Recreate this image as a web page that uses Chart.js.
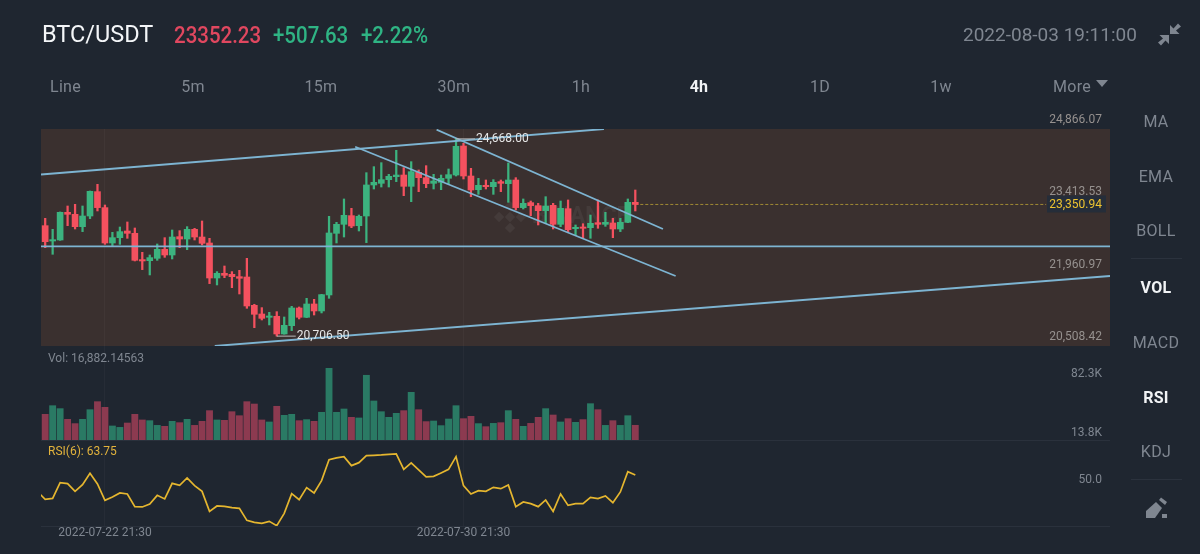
<!DOCTYPE html>
<html>
<head>
<meta charset="utf-8">
<title>BTC/USDT</title>
<script src="https://cdn.jsdelivr.net/npm/chart.js@4/dist/chart.umd.min.js"></script>
<style>
  html, body { margin: 0; padding: 0; background: #1f2630; }
  body { width: 1200px; height: 554px; position: relative; overflow: hidden; font-family: Roboto, sans-serif; }
  canvas { position: absolute; left: 0; top: 0; }
  .t { position: absolute; white-space: nowrap; line-height: 1; transform: translateY(-50%); }
  .c { transform: translate(-50%, -50%); }
  .head { font-size: 23.5px; }
  .num { font-size: 23px; font-weight: 500; transform: translateY(-50%) scaleX(0.89); transform-origin: left center; }
  .tab { font-size: 16px; color: #7f8690; letter-spacing: 0.3px; }
  .on { color: #f1f3f5; font-weight: 700; }
  .rule { position: absolute; left: 1131px; width: 51px; height: 1px; background: #2b323d; }
  svg { position: absolute; }
</style>
</head>
<body>
<canvas id="klineChart" width="1200" height="554"></canvas>

<!-- ticker header -->
<div class="t head" style="left:42px;top:35px;color:#f4f6f8">BTC/USDT</div>
<div class="t num" style="left:174px;top:35px;color:#e0475f">23352.23</div>
<div class="t num" style="left:273px;top:35px;color:#2fb484">+507.63</div>
<div class="t num" style="left:361px;top:35px;color:#2fb484">+2.22%</div>
<div class="t" style="left:963px;top:34px;color:#7f8690;font-size:19px">2022-08-03 19:11:00</div>
<svg style="left:1158px;top:22px" width="24" height="24" viewBox="0 0 24 24" fill="#7f8690">
  <path d="M12 12 L12 3 L15.5 6.5 L20 1.5 L23 4.5 L18 8.5 L21.5 12 Z"/>
  <path d="M11 13 L11 22 L7.5 18.5 L3 23.5 L0 20.5 L5 16.5 L1.5 13 Z"/>
</svg>

<!-- interval tabs -->
<div class="t tab" style="left:50px;top:87px">Line</div>
<div class="t tab c" style="left:193px;top:87px">5m</div>
<div class="t tab c" style="left:321px;top:87px">15m</div>
<div class="t tab c" style="left:454px;top:87px">30m</div>
<div class="t tab c" style="left:581px;top:87px">1h</div>
<div class="t tab c on" style="left:699px;top:87px">4h</div>
<div class="t tab c" style="left:820px;top:87px">1D</div>
<div class="t tab c" style="left:941px;top:87px">1w</div>
<div class="t tab c" style="left:1072px;top:87px">More</div>
<svg style="left:1096px;top:80px" width="12" height="7"><path d="M0 0 L12 0 L6 7 Z" fill="#7f8690"/></svg>

<!-- indicator menu -->
<div class="t tab c" style="left:1156px;top:122px">MA</div>
<div class="t tab c" style="left:1156px;top:177px">EMA</div>
<div class="t tab c" style="left:1156px;top:231px">BOLL</div>
<div class="rule" style="top:258px"></div>
<div class="t tab c on" style="left:1156px;top:288px">VOL</div>
<div class="t tab c" style="left:1156px;top:343px">MACD</div>
<div class="t tab c on" style="left:1156px;top:398px">RSI</div>
<div class="t tab c" style="left:1156px;top:452px">KDJ</div>
<div class="rule" style="top:479px"></div>
<svg style="left:1145px;top:497px" width="24" height="22" viewBox="0 0 24 22" fill="#7f8690">
  <path d="M1 21 L1 14 L11 5 L17 11 L10 21 Z"/>
  <path d="M14 3 L16 0.5 L22 5 L20 8 Z"/>
  <rect x="17" y="17" width="5" height="4"/>
</svg>

<script>
// ===== CANDLES (4h) =====
const opens = [22925, 22617, 22637, 23193, 23153, 22905, 23119, 23608, 23287, 22577,
  22684, 22818, 22771, 22243, 22222, 22269, 22450, 22336, 22704, 22657,
  22851, 22697, 22577, 21874, 21968, 21948, 21901, 21894, 21325, 21151,
  21085, 21105, 20750, 20917, 21272, 21085, 21352, 21212, 21533, 22771,
  22952, 23126, 22925, 23119, 23742, 23775, 23849, 23909, 23942, 23715,
  23996, 23889, 23775, 23795, 23876, 23942, 24525, 23922, 23648, 23735,
  23708, 23809, 23768, 23842, 23287, 23387, 23327, 23226, 23333, 22952,
  23266, 22865, 22898, 22885, 22985, 22952, 22979, 22858, 22992, 23394];
const highs = [23072, 22851, 23200, 23320, 23353, 23320, 23621, 23755, 23340, 22791,
  22898, 22999, 22878, 22390, 22336, 22557, 22684, 22838, 22825, 22905,
  22871, 23019, 22671, 22002, 22115, 22002, 22028, 22269, 21346, 21279,
  21185, 21198, 21091, 21305, 21292, 21466, 21446, 21546, 23112, 22992,
  23461, 23273, 23139, 23989, 24110, 24190, 23956, 24438, 24090, 24210,
  24043, 24130, 23956, 23942, 24063, 24668, 24578, 24076, 23875, 23842,
  23849, 23842, 24183, 23889, 23461, 23420, 23374, 23507, 23374, 23420,
  23441, 22939, 22965, 23139, 23441, 23193, 23072, 23072, 23461, 23641];
const lows = [22483, 22350, 22630, 22925, 22858, 22805, 23066, 23220, 22550, 22524,
  22550, 22671, 22216, 22042, 21935, 22229, 22289, 22256, 22483, 22443,
  22637, 22537, 21761, 21734, 21881, 21680, 21553, 21265, 20877, 21031,
  20931, 20706.5, 20745, 20817, 21051, 21078, 21131, 21172, 21466, 22577,
  22697, 22885, 22818, 22584, 23661, 23701, 23701, 23809, 23527, 23407,
  23608, 23688, 23661, 23648, 23768, 23922, 23862, 23507, 23554, 23661,
  23554, 23608, 23394, 23240, 23260, 23126, 22939, 22965, 22858, 22905,
  22805, 22724, 22671, 22671, 22872, 22912, 22684, 22805, 22985, 23220];
const closes = [22604, 22644, 23193, 23153, 22905, 23119, 23614, 23287, 22577, 22684,
  22805, 22771, 22229, 22216, 22283, 22450, 22336, 22697, 22657, 22851,
  22697, 22570, 21874, 21968, 21928, 21901, 21868, 21312, 21145, 21064,
  21111, 20750, 20924, 21272, 21085, 21352, 21212, 21540, 22778, 22952,
  23133, 22918, 23112, 23742, 23795, 23849, 23916, 23942, 23715, 24009,
  23889, 23768, 23822, 23876, 23949, 24518, 23922, 23641, 23735, 23708,
  23795, 23775, 23842, 23287, 23374, 23327, 23226, 23320, 22952, 23273,
  22845, 22892, 22872, 22972, 22952, 22992, 22858, 22992, 23394, 23350.94];

// ===== VOLUME =====
const volumes = [29500, 39400, 36000, 23700, 18800, 23700, 34800, 44000, 37500, 16100,
  14500, 19500, 29500, 23000, 22200, 16800, 15700, 21400, 19900, 23700,
  16800, 21400, 33700, 23000, 22600, 32500, 27900, 44000, 41300, 23000,
  20700, 38700, 28300, 29500, 22200, 23400, 21400, 31800, 82300, 31800,
  35600, 26000, 25300, 74300, 44800, 32500, 26000, 30600, 33700, 54700,
  34800, 21100, 21800, 16500, 24100, 39400, 24500, 27200, 18800, 15300,
  19100, 19900, 33700, 23700, 15700, 19100, 26000, 36000, 28700, 20700,
  24500, 20300, 23400, 41700, 34800, 16800, 22200, 16800, 27900, 16882.14563];

// ===== RSI(6) =====
const rsiBefore = 47;
const rsiValues = [39.4, 40.4, 56.1, 55.1, 47.4, 54.1, 65.4, 54.8, 38.4, 41.8,
  45.8, 44.8, 32.1, 31.8, 34.8, 43.4, 39.8, 55.4, 53.4, 60.8,
  53.1, 47.4, 27.4, 32.8, 32.4, 31.1, 30.4, 18.4, 16.4, 15.4,
  17.4, 13.1, 25.4, 45.1, 39.1, 51.1, 45.8, 58.1, 79.1, 80.8,
  82.1, 73.1, 76.1, 83.1, 83.4, 83.8, 84.4, 84.8, 69.4, 75.8,
  68.8, 61.8, 62.4, 65.8, 69.4, 82.1, 53.1, 44.8, 48.1, 47.4,
  51.4, 50.1, 53.8, 32.1, 36.8, 35.1, 32.1, 38.8, 27.4, 44.8,
  33.4, 35.1, 35.1, 41.4, 40.1, 42.8, 36.1, 46.8, 67.1, 63.75];

// ===== AXES =====
const timeTickIndexes = [8, 56];
const timeTickLabels = ['2022-07-22 21:30', '2022-07-30 21:30'];
const priceTicks = [24866.07, 23413.53, 21960.97, 20508.42];
const volumeTicks = [82300, 13800];
const rsiTicks = [50];

// ===== DRAWN TREND LINES [candle index, price] =====
const channelUpper = [[-0.56, 23952], [74.8, 24866]];
const supportLevel = [[-0.56, 22511], [142.55, 22511]];
const risingBase = [[22.7, 20508], [142.55, 21914]];
const fallingTop = [[52.4, 24852], [82.7, 22858]];
const fallingBottom = [[41.5, 24510], [84.4, 21914]];

// ===== COLOURS =====
const UP = '#3cb37f';
const DOWN = '#f4515f';
const UP_VOL = '#2a7a64';
const DOWN_VOL = '#8c3a50';
const LINE_BLUE = '#7db4d2';
const TEXT_GREY = '#7f8690';

const FONT = 'Roboto, sans-serif';
const indexes = closes.map((_, i) => i);
const isUp = i => closes[i] >= opens[i];
const money = v => v.toLocaleString('en-US', { minimumFractionDigits: 2, maximumFractionDigits: 2 });
const lastIndex = closes.length - 1;

const trendDataset = points => ({
  type: 'line',
  data: points.map(([x, y]) => ({ x, y })),
  yAxisID: 'yPrice',
  borderColor: LINE_BLUE,
  borderWidth: 1.8,
  pointRadius: 0,
  order: 1
});

// Right-hand pane axis: no width of its own, labels sit inside the plot
const paneAxis = (weight, min, max, ticks, labelOffset, color, format) => ({
  position: 'right',
  stack: 'panes',
  stackWeight: weight,
  min,
  max,
  afterBuildTicks: scale => { scale.ticks = ticks.map(value => ({ value })); },
  afterFit: scale => { scale.width = 0; },
  grid: { display: false, drawTicks: false },
  border: { display: false },
  ticks: {
    mirror: true,
    padding: -8,
    labelOffset,
    color,
    font: { family: FONT, size: 12 },
    callback: format
  }
});

// Band behind the candles, pane rules and the faint exchange watermark
const paneBackdrop = {
  id: 'paneBackdrop',
  beforeDraw(chart) {
    const { ctx, chartArea, scales } = chart;
    const p = scales.yPrice;
    ctx.save();
    ctx.fillStyle = '#3a302f';
    ctx.fillRect(chartArea.left, p.top, chartArea.width, p.height);
    ctx.fillStyle = '#2a313c';
    ctx.fillRect(chartArea.left, scales.yVol.bottom, chartArea.width, 1);
    ctx.fillRect(chartArea.left, scales.yRsi.bottom, chartArea.width, 1);
    ctx.restore();
  },
  beforeDatasetsDraw(chart) {
    const { ctx } = chart;
    ctx.save();
    ctx.fillStyle = 'rgba(255,255,255,0.055)';
    const cx = 510, cy = 217, s = 5.2;
    [[0, -2.1], [-2.1, 0], [2.1, 0], [0, 2.1], [0, 0]].forEach(([dx, dy]) => {
      ctx.beginPath();
      ctx.moveTo(cx + dx * s, cy + dy * s - s);
      ctx.lineTo(cx + dx * s + s, cy + dy * s);
      ctx.lineTo(cx + dx * s, cy + dy * s + s);
      ctx.lineTo(cx + dx * s - s, cy + dy * s);
      ctx.fill();
    });
    ctx.font = '700 23px ' + FONT;
    ctx.textBaseline = 'middle';
    ctx.fillText('BINANCE', 532, 217);
    ctx.restore();
  }
};

// High/low callouts, pane titles and the last-price tag
const priceNotes = {
  id: 'priceNotes',
  afterDatasetsDraw(chart) {
    const { ctx, scales } = chart;
    const x = scales.x, p = scales.yPrice;
    const hi = highs.indexOf(Math.max(...highs));
    const lo = lows.indexOf(Math.min(...lows));
    ctx.save();
    ctx.font = '12px ' + FONT;
    ctx.textBaseline = 'middle';

    [[hi, highs[hi]], [lo, lows[lo]]].forEach(([i, v]) => {
      const px = x.getPixelForValue(i), py = p.getPixelForValue(v);
      ctx.strokeStyle = '#b9b9b9';
      ctx.lineWidth = 1;
      ctx.beginPath();
      ctx.moveTo(px, py);
      ctx.lineTo(px + 19, py);
      ctx.stroke();
      ctx.fillStyle = '#e6e6e6';
      ctx.fillText(money(v), px + 20, py);
    });

    ctx.fillStyle = TEXT_GREY;
    ctx.fillText('Vol: ' + volumes[lastIndex].toLocaleString('en-US', { minimumFractionDigits: 5 }), 48, 359);
    ctx.fillStyle = '#e2b33c';
    ctx.fillText('RSI(6): ' + rsiValues[lastIndex].toFixed(2), 48, 452);

    const py = p.getPixelForValue(closes[lastIndex]);
    ctx.fillStyle = '#252d39';
    ctx.fillRect(1047, py - 9, 59, 17);
    ctx.fillStyle = '#eec430';
    ctx.textAlign = 'right';
    ctx.fillText(money(closes[lastIndex]), 1102, py + 0.5);
    ctx.restore();
  }
};

// ===== CHART =====
new Chart(document.getElementById('klineChart'), {
  data: {
    datasets: [
      trendDataset(channelUpper),
      trendDataset(supportLevel),
      trendDataset(risingBase),
      trendDataset(fallingTop),
      trendDataset(fallingBottom),
      {
        // dashed last-price guide
        type: 'line',
        data: [{ x: lastIndex, y: closes[lastIndex] }, { x: 134, y: closes[lastIndex] }],
        yAxisID: 'yPrice',
        borderColor: '#a08a34',
        borderWidth: 1,
        borderDash: [3, 2],
        pointRadius: 0,
        order: 4
      },
      {
        type: 'bar',
        data: indexes.map(i => ({ x: i, y: [opens[i], closes[i]] })),
        yAxisID: 'yPrice',
        backgroundColor: indexes.map(i => isUp(i) ? UP : DOWN),
        barThickness: 6,
        grouped: false,
        order: 2
      },
      {
        type: 'bar',
        data: indexes.map(i => ({ x: i, y: [lows[i], highs[i]] })),
        yAxisID: 'yPrice',
        backgroundColor: indexes.map(i => isUp(i) ? UP : DOWN),
        barThickness: 1.6,
        grouped: false,
        order: 3
      },
      {
        type: 'bar',
        data: indexes.map(i => ({ x: i, y: volumes[i] })),
        yAxisID: 'yVol',
        backgroundColor: indexes.map(i => isUp(i) ? UP_VOL : DOWN_VOL),
        barThickness: 6.2,
        grouped: false,
        order: 5
      },
      {
        type: 'line',
        data: [{ x: -1, y: rsiBefore }, ...indexes.map(i => ({ x: i, y: rsiValues[i] }))],
        yAxisID: 'yRsi',
        borderColor: '#e5b62f',
        borderWidth: 1.7,
        pointRadius: 0,
        tension: 0,
        order: 5
      }
    ]
  },
  options: {
    responsive: false,
    animation: false,
    events: [],
    layout: { padding: { left: 41, right: 90, top: 129, bottom: 0 } },
    plugins: { legend: { display: false }, tooltip: { enabled: false } },
    scales: {
      x: {
        type: 'linear',
        offset: false,
        min: -0.56,
        max: 142.55,
        afterBuildTicks: scale => { scale.ticks = timeTickIndexes.map(value => ({ value })); },
        afterFit: scale => { scale.height = 28; },
        grid: { color: 'rgba(255,255,255,0.03)', drawTicks: false, offset: false },
        border: { display: false },
        ticks: {
          autoSkip: false,
          maxRotation: 0,
          padding: 0,
          color: TEXT_GREY,
          font: { family: FONT, size: 12 },
          callback: value => timeTickLabels[timeTickIndexes.indexOf(value)]
        }
      },
      yPrice: paneAxis(217, 20508.42, 24866.07, priceTicks, -9, '#96918f', value => money(value)),
      yVol: paneAxis(94, 0, 107900, volumeTicks, 5.5, TEXT_GREY, value => (value / 1000).toFixed(1) + 'K'),
      yRsi: paneAxis(86, 12.75, 98.75, rsiTicks, -9, TEXT_GREY, value => value.toFixed(1))
    }
  },
  plugins: [paneBackdrop, priceNotes]
});
</script>
</body>
</html>
